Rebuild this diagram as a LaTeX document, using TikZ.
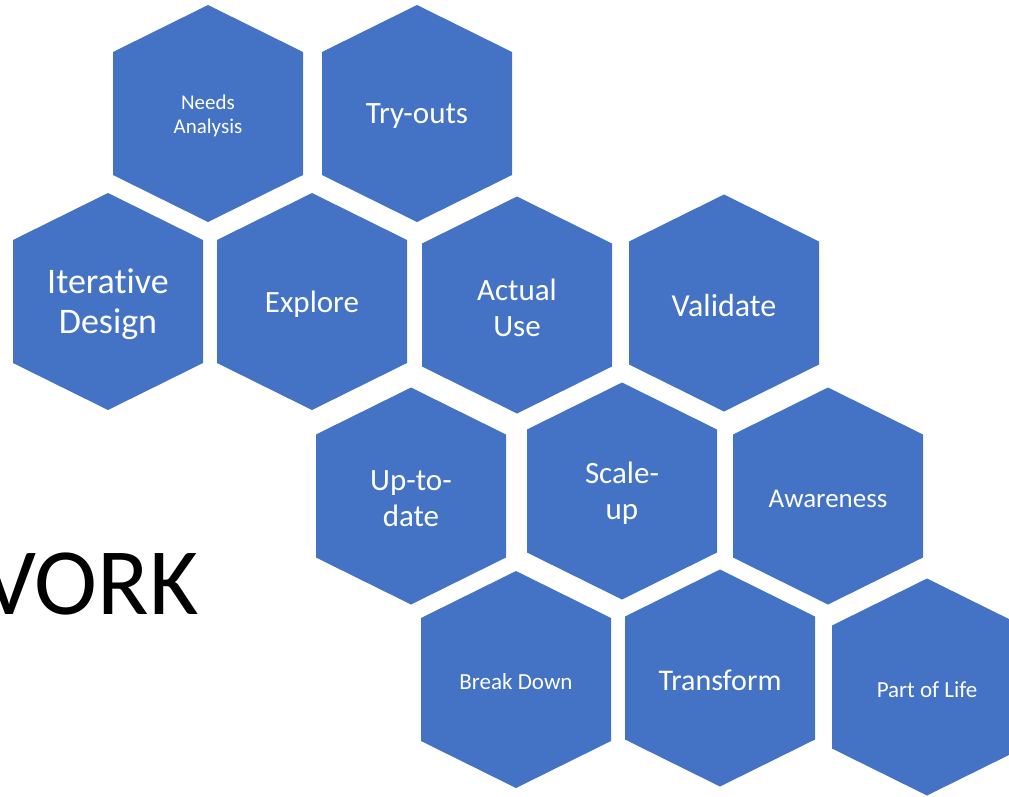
\documentclass[tikz,border=0pt]{standalone}
\usepackage{fontspec}
\setmainfont{Carlito}[Ligatures=NoCommon]
\definecolor{hexblue}{HTML}{4472C4}
\tikzset{
  cell/.style={fill=hexblue},
  celltext/.style={text=white, align=center, inner sep=0pt, yshift=-2.5pt},
}

\begin{document}
\begin{tikzpicture}[x=1pt, y=-1pt]
    \useasboundingbox (0,0) rectangle (1009,796);
    % honeycomb cells
    \foreach \cx/\cy in {208/113.5, 417/113.5, 108/301.5, 312/301.5, 517/305, 724/303,
                         411/496, 622/491, 828/496, 516/679.5, 720/678, 927/687}
        \fill[cell] (\cx,\cy) ++(0,-108.5) -- ++(95,47) -- ++(0,123) -- ++(-95,47) -- ++(-95,-47) -- ++(0,-123) -- cycle;
    \node[celltext, font=\fontsize{21}{24}\selectfont] (needs) at (208,113.5) {Needs\\Analysis};
    \node[celltext, font=\fontsize{31}{36}\selectfont] (tryouts) at (417,113.5) {Try-outs};
    \node[celltext, font=\fontsize{36}{40}\selectfont] (iterative) at (108,301.5) {Iterative\\Design};
    \node[celltext, font=\fontsize{31}{36}\selectfont] (explore) at (312,301.5) {Explore};
    \node[celltext, font=\fontsize{31}{36}\selectfont] (actual) at (517,305) {Actual\\Use};
    \node[celltext, font=\fontsize{32}{36}\selectfont] (validate) at (724,303) {Validate};
    \node[celltext, font=\fontsize{31}{36}\selectfont] (uptodate) at (411,496) {Up-to-\\date};
    \node[celltext, font=\fontsize{31}{36}\selectfont] (scaleup) at (622,491) {Scale-\\up};
    \node[celltext, font=\fontsize{27}{32}\selectfont] (awareness) at (828,496) {Awareness};
    \node[celltext, font=\fontsize{23}{28}\selectfont] (breakdown) at (516,679.5) {Break Down};
    \node[celltext, font=\fontsize{30}{36}\selectfont] (transform) at (720,678) {Transform};
    \node[celltext, font=\fontsize{23}{28}\selectfont] (partlife) at (927,687) {Part of Life};
    % title, cut at the left edge
    \node[anchor=base east, inner sep=0pt, font=\fontsize{95}{100}\selectfont] (vork) at (199,614) {VORK};
\end{tikzpicture}
\end{document}
